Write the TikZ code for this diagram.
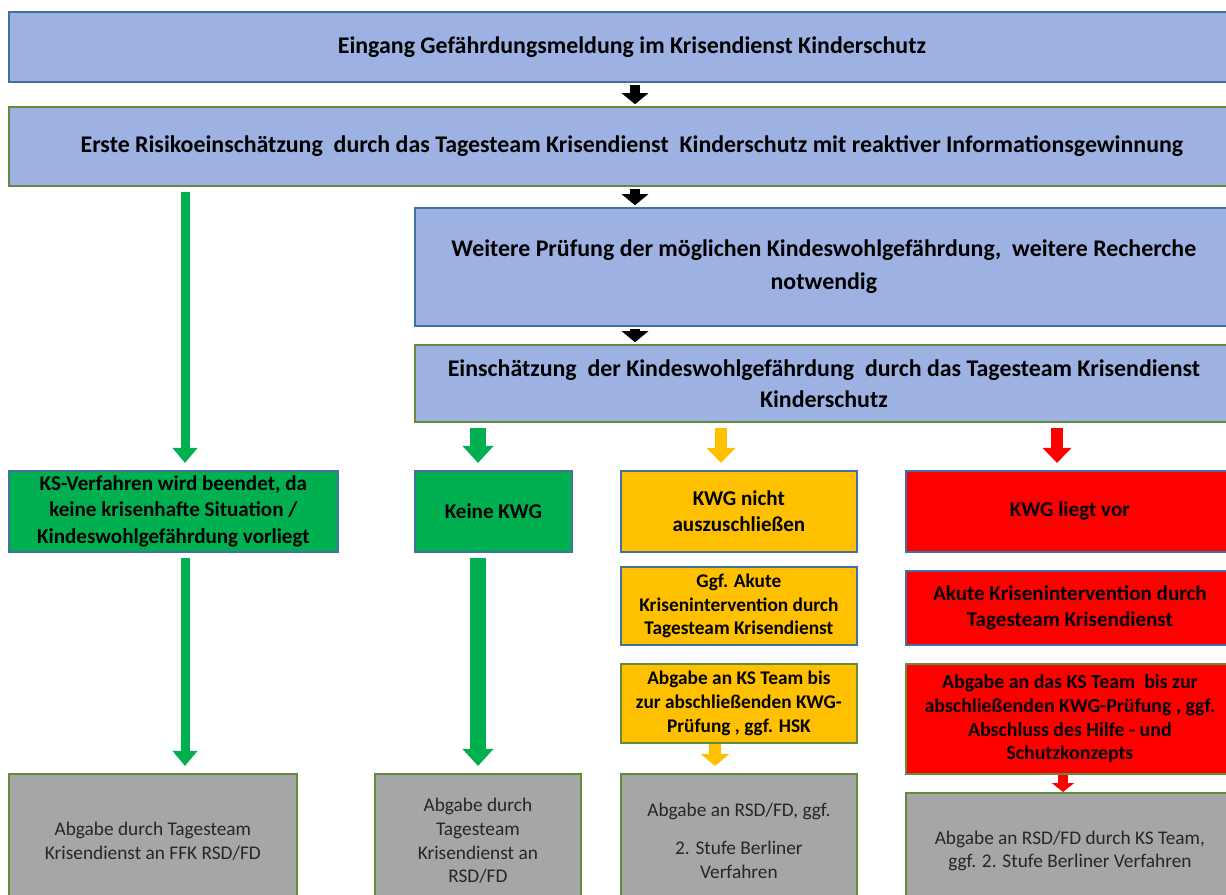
\documentclass[tikz,border=0pt]{standalone}
\usepackage{fontspec}
\setmainfont{Carlito}
\usetikzlibrary{positioning}
\usetikzlibrary{arrows.meta}

\definecolor{boxblue}{RGB}{157,178,226}
\definecolor{lineblue}{RGB}{65,113,156}
\definecolor{linegreen}{RGB}{98,140,60}
\definecolor{kwggreen}{RGB}{0,176,80}
\definecolor{kwgyellow}{RGB}{255,192,0}
\definecolor{kwgred}{RGB}{255,0,0}
\definecolor{handgray}{RGB}{166,166,166}

\newcommand{\px}{0.02cm}

\begin{document}
\begin{tikzpicture}[x=0.02cm,y=-0.02cm]
			\tikzset{
				stepnode/.style={rectangle, anchor=north west, inner sep=0pt, align=center, line width=1pt},
				bluenode/.style={stepnode, fill=boxblue, draw=lineblue, font=\bfseries\fontsize{13.6}{17.5}\selectfont},
				greennode/.style={stepnode, fill=kwggreen, draw=lineblue, font=\bfseries\fontsize{12}{15}\selectfont},
				yellownode/.style={stepnode, fill=kwgyellow, draw=lineblue, font=\bfseries\fontsize{11}{13.5}\selectfont},
				rednode/.style={stepnode, fill=kwgred, draw=lineblue, font=\bfseries\fontsize{12}{15.3}\selectfont},
				graynode/.style={stepnode, fill=handgray, draw=linegreen, font=\fontsize{11}{13.5}\selectfont, text=black!85},
				flow/.style={line width=#1*\px, shorten <=3pt, shorten >=4pt},
				blackarrow/.style={flow=10, shorten <=1pt, shorten >=1pt, -{Triangle[width=26*\px,length=11*\px]}},
				greenarrow/.style={flow=9, draw=kwggreen, -{Triangle[width=24*\px,length=15*\px]}},
				wideGreenarrow/.style={flow=16, draw=kwggreen, -{Triangle[width=30*\px,length=17*\px]}},
				yellowarrow/.style={flow=12, draw=kwgyellow, -{Triangle[width=28*\px,length=15*\px]}},
				redarrow/.style={flow=12, draw=kwgred, -{Triangle[width=28*\px,length=15*\px]}},
			}
			\useasboundingbox (0,0) rectangle (1226,895);

			% top of the procedure
			\node[bluenode, minimum width=1246*\px, minimum height=70*\px] (eingang) at (8,11)
				{Eingang Gefährdungsmeldung im Krisendienst Kinderschutz};
			\node[bluenode, draw=linegreen, minimum width=1246*\px, minimum height=79*\px] (erste) at (8,106)
				{Erste Risikoeinschätzung\ \ durch das Tagesteam Krisendienst\ \ Kinderschutz mit reaktiver Informationsgewinnung};
			\node[bluenode, minimum width=818*\px, minimum height=118*\px] (weitere) at (414,207)
				{Weitere Prüfung der möglichen Kindeswohlgefährdung,\ \ weitere Recherche\\[1pt]notwendig};
			\node[bluenode, draw=linegreen, minimum width=818*\px, minimum height=77*\px] (einschaetzung) at (414,344)
				{Einschätzung\ \ der Kindeswohlgefährdung\ \ durch das Tagesteam Krisendienst\\Kinderschutz};

			% result of the assessment
			\node[greennode, minimum width=329*\px, minimum height=81*\px] (beendet) at (8,470)
				{KS-Verfahren wird beendet, da\\keine krisenhafte Situation /\\Kindeswohlgefährdung vorliegt};
			\node[greennode, minimum width=157*\px, minimum height=81*\px] (keine) at (414,470) {Keine KWG};
			\node[yellownode, font=\bfseries\fontsize{12}{15}\selectfont, minimum width=236*\px, minimum height=81*\px] (nicht) at (620,470)
				{KWG nicht\\auszuschließen};
			\node[rednode, minimum width=328*\px, minimum height=81*\px] (liegtvor) at (905,470) {KWG liegt vor};

			\node[yellownode, minimum width=236*\px, minimum height=78*\px] (ggfakut) at (620,566)
				{Ggf. Akute\\Krisenintervention durch\\Tagesteam Krisendienst};
			\node[rednode, minimum width=328*\px, minimum height=74*\px] (akut) at (905,570)
				{Akute Krisenintervention durch\\Tagesteam Krisendienst};
			\node[yellownode, draw=linegreen, minimum width=236*\px, minimum height=79*\px] (ksteam) at (620,663)
				{Abgabe an KS Team bis\\zur abschließenden KWG-\\Prüfung , ggf. HSK};
			\node[rednode, draw=linegreen, font=\bfseries\fontsize{11.3}{13.5}\selectfont, minimum width=328*\px, minimum height=110*\px] (dasks) at (905,663)
				{Abgabe an das KS Team\ \ bis zur\\abschließenden KWG-Prüfung , ggf.\\Abschluss des Hilfe - und\\Schutzkonzepts};

			% handing over
			\node[graynode, minimum width=288*\px, minimum height=134*\px] (ffk) at (8,773)
				{Abgabe durch Tagesteam\\Krisendienst an FFK RSD/FD};
			\node[graynode, minimum width=206*\px, minimum height=134*\px] (rsd) at (374,773)
				{Abgabe durch\\Tagesteam\\Krisendienst an\\RSD/FD};
			\node[graynode, minimum width=236*\px, minimum height=134*\px] (berliner) at (620,773)
				{Abgabe an RSD/FD, ggf.\\[8pt]2. Stufe Berliner\\Verfahren};
			\node[graynode, minimum width=328*\px, minimum height=116*\px] (ksrsd) at (905,792)
				{Abgabe an RSD/FD durch KS Team,\\ggf. 2. Stufe Berliner Verfahren};

			\coordinate (midline) at (635,0);
			\coordinate (leftline) at (185,0);
			\coordinate (keineline) at (478,0);
			\coordinate (nichtline) at (721,0);
			\coordinate (vorline) at (1057,0);
			\coordinate (hskline) at (715,0);
			\coordinate (schutzline) at (1063,0);

			\draw[blackarrow] (eingang.south -| midline) -- (erste.north -| midline);
			\draw[blackarrow] (erste.south -| midline) -- (weitere.north -| midline);
			\draw[blackarrow] (weitere.south -| midline) -- (einschaetzung.north -| midline);

			\draw[greenarrow] (erste.south -| leftline) -- (beendet.north -| leftline);
			\draw[wideGreenarrow] (einschaetzung.south -| keineline) -- (keine.north -| keineline);
			\draw[yellowarrow] (einschaetzung.south -| nichtline) -- (nicht.north -| nichtline);
			\draw[redarrow] (einschaetzung.south -| vorline) -- (liegtvor.north -| vorline);

			\draw[greenarrow] (beendet.south -| leftline) -- (ffk.north -| leftline);
			\draw[wideGreenarrow] (keine.south -| keineline) -- (rsd.north -| keineline);
			\draw[yellowarrow, shorten <=0pt, shorten >=4pt, -{Triangle[width=28*\px,length=12*\px]}] (ksteam.south -| hskline) -- (berliner.north -| hskline);
			\draw[redarrow, line width=10*\px, shorten <=0pt, shorten >=0pt, -{Triangle[width=22*\px,length=9*\px]}] (dasks.south -| schutzline) -- (ksrsd.north -| schutzline);
		\end{tikzpicture}
\end{document}
